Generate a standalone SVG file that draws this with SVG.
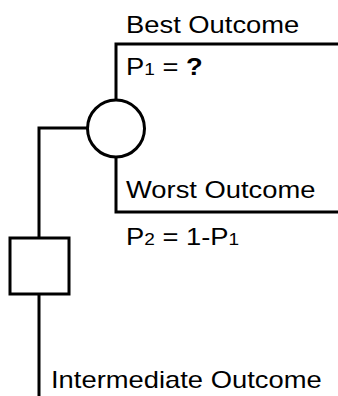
<svg xmlns="http://www.w3.org/2000/svg" width="338" height="396" viewBox="0 0 338 396">
  <style>
    .ln { fill: none; stroke: #000; stroke-width: 3; stroke-linecap: butt; stroke-linejoin: miter; }
    .nd { fill: #fff; stroke: #000; stroke-width: 3; }
    .lbl { font-family: "Liberation Sans", Arial, sans-serif; font-size: 23px; fill: #000; }
    .sub { font-size: 16px; }
    .b { font-weight: bold; }
  </style>
  <rect width="338" height="396" fill="#fff"/>

  <!-- branches -->
  <g id="connectors">
    <path class="ln" d="M338,44 H116 V100"/>
    <path class="ln" d="M116,157 V212 H338"/>
    <path class="ln" d="M88,128 H39 V396"/>
  </g>

  <!-- chance node -->
  <g id="chance-node">
    <circle class="nd" cx="116" cy="128.5" r="28.5"/>
  </g>

  <!-- decision node -->
  <g id="decision-node">
    <rect class="nd" x="10" y="238" width="59" height="56"/>
  </g>

  <!-- labels -->
  <g id="best-outcome">
    <text class="lbl" transform="translate(126,33) scale(1.19,1)">Best Outcome</text>
    <text class="lbl" transform="translate(126,75) scale(1.19,1)">P<tspan class="sub">1</tspan> = <tspan class="b">?</tspan></text>
  </g>
  <g id="worst-outcome">
    <text class="lbl" transform="translate(126,198) scale(1.19,1)">Worst Outcome</text>
    <text class="lbl" transform="translate(126,245) scale(1.19,1)">P<tspan class="sub">2</tspan> = 1-P<tspan class="sub">1</tspan></text>
  </g>
  <g id="intermediate-outcome">
    <text class="lbl" transform="translate(51,388) scale(1.19,1)">Intermediate Outcome</text>
  </g>
</svg>
